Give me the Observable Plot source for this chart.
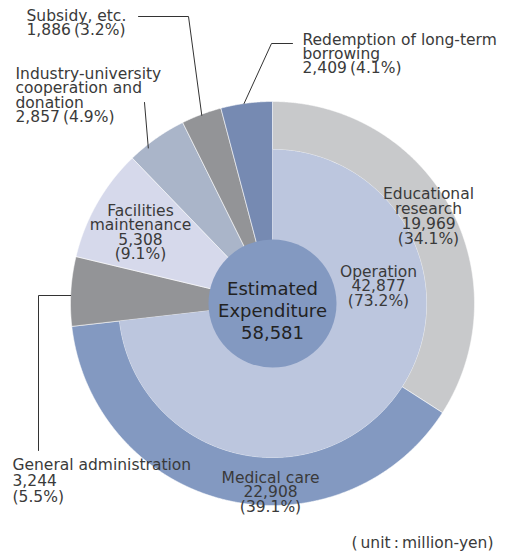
<!DOCTYPE html>
<html><head><meta charset="utf-8">
<script src="https://cdn.jsdelivr.net/npm/d3@7"></script>
<script src="https://cdn.jsdelivr.net/npm/@observablehq/plot@0.6"></script>
<style>html,body{margin:0;padding:0;background:#fff;}</style>
</head><body><div id="chart"></div>
<script>
// ---- Data ----
const categories = ["Educational research", "Medical care", "General administration", "Facilities maintenance", "Industry-university cooperation and donation", "Subsidy, etc.", "Redemption of long-term borrowing"];
const values = [19969, 22908, 3244, 5308, 2857, 1886, 2409];
const parentGroup = ["Operation", "Operation", null, null, null, null, null];
const innerCategories = ["Operation"];
const innerValues = [42877];
const totalTitle = "Estimated\nExpenditure";
const totalValue = 58581;
const unitText = "(\u2009unit\u2009:\u2009million-yen)";

// ---- Styles / layout ----
const W = 515, H = 553;
const cx = 272, cy = 303;
const R = 202, R1 = 154, R0 = 58, RC = 64;
const colors = ["#c8c9cb", "#8399c1", "#939497", "#d6d9eb", "#aab5c9", "#939497", "#768ab2"];
const innerColors = ["#bcc6de"];
const centerColor = "#8399c1";
const font = "'DejaVu Sans', 'Noto Sans CJK JP', sans-serif";
const textColor = "#3a3a3a";
const FS = 15.5;

const total = d3.sum(values);
const pct = v => (v / total * 100).toFixed(1) + "%";
const fmt = d3.format(",");

// angles
let acc = 0;
const segs = values.map((v, i) => {
  const a0 = acc / total * 2 * Math.PI; acc += v;
  const a1 = acc / total * 2 * Math.PI;
  return {i, name: categories[i], value: v, a0, a1, rIn: parentGroup[i] ? R1 : R0, rOut: R, color: colors[i]};
});
let iacc = 0;
const innerSegs = innerValues.map((v, i) => {
  const a0 = iacc / total * 2 * Math.PI; iacc += v;
  const a1 = iacc / total * 2 * Math.PI;
  return {name: innerCategories[i], value: v, a0, a1, rIn: R0, rOut: R1, color: innerColors[i]};
});

function polar(a, r) { return [cx + r * Math.sin(a), cy - r * Math.cos(a)]; }
function arcPoly(s) {
  const pts = [];
  const n = Math.max(2, Math.ceil((s.a1 - s.a0) / 0.004));
  for (let k = 0; k <= n; k++) { const [x, y] = polar(s.a0 + (s.a1 - s.a0) * k / n, s.rOut); pts.push({x, y}); }
  for (let k = n; k >= 0; k--) { const [x, y] = polar(s.a0 + (s.a1 - s.a0) * k / n, s.rIn); pts.push({x, y}); }
  pts.push({...pts[0]});
  return pts;
}

const mid = s => (s.a0 + s.a1) / 2;
const byName = Object.fromEntries(segs.map(s => [s.name, s]));

// leader lines (elbow points are layout; end points at wedge edge from data angles)
const subs = byName["Subsidy, etc."], red = byName["Redemption of long-term borrowing"], ind = byName["Industry-university cooperation and donation"];
const [sx, sy] = polar(mid(subs), R - 1);
const [rx, ry] = polar(mid(red) - 0.012, R);
const [ix, iy] = polar(mid(ind) - 0.06, R - 3);
const gaY = 295, gaX = cx - Math.sqrt(R * R - (gaY - cy) ** 2);
const leaders = [
  [{x: 138, y: 16}, {x: 188, y: 16}, {x: sx, y: sy}],
  [{x: 292, y: 43}, {x: 271, y: 43}, {x: rx, y: ry}],
  [{x: 144, y: 102}, {x: ix, y: iy}],
  [{x: gaX, y: gaY}, {x: 38, y: gaY}, {x: 38, y: 450}]
];

const seg = n => byName[n];
const lab = (n, name) => `${name}\n${fmt(seg(n).value)}\u2009(${pct(seg(n).value)})`;
const lab2 = (n, name) => `${name}\n${fmt(seg(n).value)}\n(${pct(seg(n).value)})`;
const op = innerSegs[0];

// label layout: x, cap-top y, anchor, line spacing (px)
const labels = [
  {text: lab("Subsidy, etc.", "Subsidy, etc."), x: 26, y: 10, anchor: "start", lh: 14.5},
  {text: lab("Industry-university cooperation and donation", "Industry-university\ncooperation and\ndonation"), x: 15, y: 68, anchor: "start", lh: 14.4},
  {text: lab("Redemption of long-term borrowing", "Redemption of long-term\nborrowing"), x: 302, y: 35, anchor: "start", lh: 13.8},
  {text: lab2("Educational research", "Educational\nresearch"), x: 428, y: 188, anchor: "middle", lh: 15},
  {text: `${op.name}\n${fmt(op.value)}\n(${pct(op.value)})`, x: 378, y: 266, anchor: "middle", lh: 14.5},
  {text: lab2("Facilities maintenance", "Facilities\nmaintenance"), x: 140, y: 205, anchor: "middle", lh: 14.5},
  {text: lab2("Medical care", "Medical care"), x: 270, y: 472, anchor: "middle", lh: 14.5},
  {text: lab2("General administration", "General administration"), x: 12, y: 458, anchor: "start", lh: 16},
  {text: unitText, x: 493, y: 537, anchor: "end", lh: 15}
];

const marks = [];
for (const s of segs) marks.push(Plot.line(arcPoly(s), {x: "x", y: "y", fill: s.color, stroke: "#ffffff", strokeWidth: 0.7, strokeOpacity: 0.8}));
for (const s of innerSegs) marks.push(Plot.line(arcPoly(s), {x: "x", y: "y", fill: s.color, stroke: "none"}));
marks.push(Plot.dot([totalValue], {x: () => cx, y: () => cy, r: RC, fill: centerColor, stroke: "none"}));
for (const L of leaders) marks.push(Plot.line(L, {x: "x", y: "y", stroke: "#333", strokeWidth: 1}));
for (const l of labels) marks.push(Plot.text([l], {x: "x", y: "y", text: "text", textAnchor: l.anchor, lineAnchor: "top", lineHeight: l.lh / FS, fontSize: FS, fill: textColor, fontFamily: font}));
marks.push(Plot.text([totalValue], {x: () => cx, y: () => 279, text: d => `${totalTitle}\n${fmt(d)}`, textAnchor: "middle", lineAnchor: "top", lineHeight: 22 / 18, fontSize: 18, fill: "#222", fontFamily: font}));

const chart = Plot.plot({
  width: W, height: H, margin: 0,
  x: {domain: [0, W], range: [0, W], axis: null},
  y: {domain: [0, H], range: [0, H], axis: null},
  style: {background: "#fff", fontFamily: font},
  marks
});
document.getElementById("chart").append(chart);
</script></body></html>
